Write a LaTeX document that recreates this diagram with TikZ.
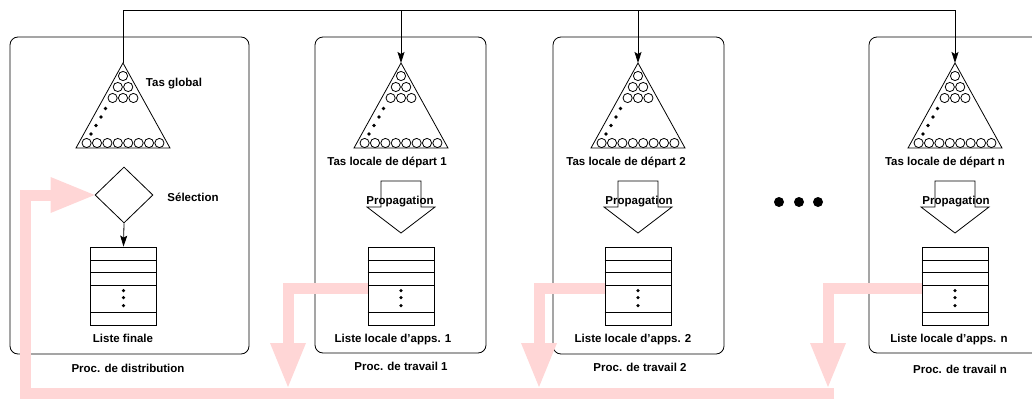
\documentclass[tikz,border=0pt]{standalone}
\usepackage{fontspec}
\setmainfont{Liberation Sans}
\usetikzlibrary{arrows.meta,shapes.geometric}
\definecolor{pinkband}{RGB}{255,214,214}
\tikzset{
  lbl/.style={font=\bfseries\fontsize{11.5}{13}\selectfont, inner sep=0pt, anchor=base},
  procbox/.style={draw, rounded corners=8pt, line width=0.8pt},
  thinl/.style={line width=0.8pt},
  arr/.style={line width=0.8pt, -{Stealth[length=11pt,width=7pt,inset=2pt]}},
  feed/.style={draw=pinkband, line width=11pt, line join=miter,
    -{Triangle[length=44pt,width=36pt,line width=0pt]}},
  listbox/.style={draw, line width=0.8pt, minimum width=66pt, minimum height=78pt, inner sep=0pt},
}
\newcommand\drawheap[1]{%
  \draw[thinl] (#1,63) -- (#1+47,148) -- (#1-47,148) -- cycle;
  \draw[thinl] (#1,76) circle[radius=4.6pt];
  \foreach \dx in {-5.2,5.2} \draw[thinl] (#1+\dx,87) circle[radius=4.6pt];
  \foreach \dx in {-10.4,0,10.4} \draw[thinl] (#1+\dx,98) circle[radius=4.6pt];
  \foreach \k in {0,...,7} \draw[thinl] (#1-36.4+10.4*\k,143) circle[radius=4.6pt];
  \foreach \dx/\dy in {-17.5/108.5,-22/117,-27/125.5,-32/134}
    \fill (#1+\dx,\dy) circle[radius=1.8pt];
}
\newcommand\listlines[1]{%
  \foreach \dy in {14,26,39,66}
    \draw[thinl] ([yshift=-\dy pt]#1.north west) -- ([yshift=-\dy pt]#1.north east);
  \foreach \dy in {44,51,59}
    \fill ([yshift=-\dy pt]#1.north) circle[radius=1.8pt];
}
\newcommand\propag[1]{%
  \draw[thinl] (#1-20,181) -- (#1+20,181) -- (#1+20,207) -- (#1+34,207) -- (#1,233)
     -- (#1-34,207) -- (#1-20,207) -- cycle;
}
\begin{document}
\begin{tikzpicture}[x=1pt,y=-1pt]
\useasboundingbox (0,0) rectangle (1032,399);
\clip (0,0) rectangle (1032,399);

% processor boxes
\draw[procbox] (10,37) rectangle (249,354);
\draw[procbox] (315,37) rectangle (486,353);
\draw[procbox] (553,37) rectangle (724,354);
\draw[procbox] (869,37) rectangle (1040,353);

% heaps
\drawheap{123}
\drawheap{401}
\drawheap{638}
\drawheap{955}

\coordinate (apex1) at (123,63);
\coordinate (apex2) at (401,63);
\coordinate (apex3) at (638,63);
\coordinate (apex4) at (955,63);
\coordinate (t1) at (123,10);
\coordinate (t2) at (401,10);
\coordinate (t3) at (638,10);
\coordinate (t4) at (955,10);

% top distribution connector
\draw[thinl] (apex1) -- (t1) -- (t4);
\draw[arr] (t2) -- (apex2);
\draw[arr] (t3) -- (apex3);
\draw[arr] (t4) -- (apex4);

% distribution processor
\node[lbl] (tg) at (174,86) {Tas global};
\node[draw, diamond, line width=0.8pt, minimum width=58pt, minimum height=56pt, inner sep=0pt] (sel) at (124,195) {};
\node[lbl] (sell) at (193,201) {Sélection};
\node[listbox] (list1) at (123.5,286) {};
\listlines{list1}
\draw[arr] (sel.south) -- (list1.north);
\node[lbl] (lf) at (123,342.5) {Liste finale};
\node[lbl] (pd) at (128,372) {Proc. de distribution};

% workers
\propag{401}
\propag{638}
\propag{955}
\node[listbox] (list2) at (401,286) {};
\node[listbox] (list3) at (638,286) {};
\node[listbox] (list4) at (955,286) {};
\listlines{list2}
\listlines{list3}
\listlines{list4}

\node[lbl] (tl1) at (387,165) {Tas locale de départ 1};
\node[lbl] (tl2) at (626,165) {Tas locale de départ 2};
\node[lbl] (tl3) at (945,165) {Tas locale de départ n};
\node[lbl] (pr1) at (400,204) {Propagation};
\node[lbl] (pr2) at (639,204) {Propagation};
\node[lbl] (pr3) at (956,204) {Propagation};
\node[lbl] (ll1) at (393,342) {Liste locale d’apps. 1};
\node[lbl] (ll2) at (633,342) {Liste locale d’apps. 2};
\node[lbl] (ll3) at (949,342) {Liste locale d’apps. n};
\node[lbl] (pt1) at (401,370) {Proc. de travail 1};
\node[lbl] (pt2) at (640,371) {Proc. de travail 2};
\node[lbl] (pt3) at (960,373) {Proc. de travail n};

% ellipsis
\fill (779,202) circle[radius=5pt];
\fill (799,202) circle[radius=5pt];
\fill (818,202) circle[radius=5pt];

% feedback (pink)
\coordinate (bandR) at (834,393);
\coordinate (loopC) at (25,393);
\coordinate (c2) at (288,288);
\coordinate (c3) at (539,288);
\coordinate (c4) at (828,288);
\draw[feed] (bandR) -- (loopC) |- (sel.west);
\draw[feed] ([yshift=-2pt]list2.west) -- (c2) -- (288,387);
\draw[feed] ([yshift=-2pt]list3.west) -- (c3) -- (539,387);
\draw[feed] ([yshift=-2pt]list4.west) -- (c4) -- (828,387);
\end{tikzpicture}
\end{document}
